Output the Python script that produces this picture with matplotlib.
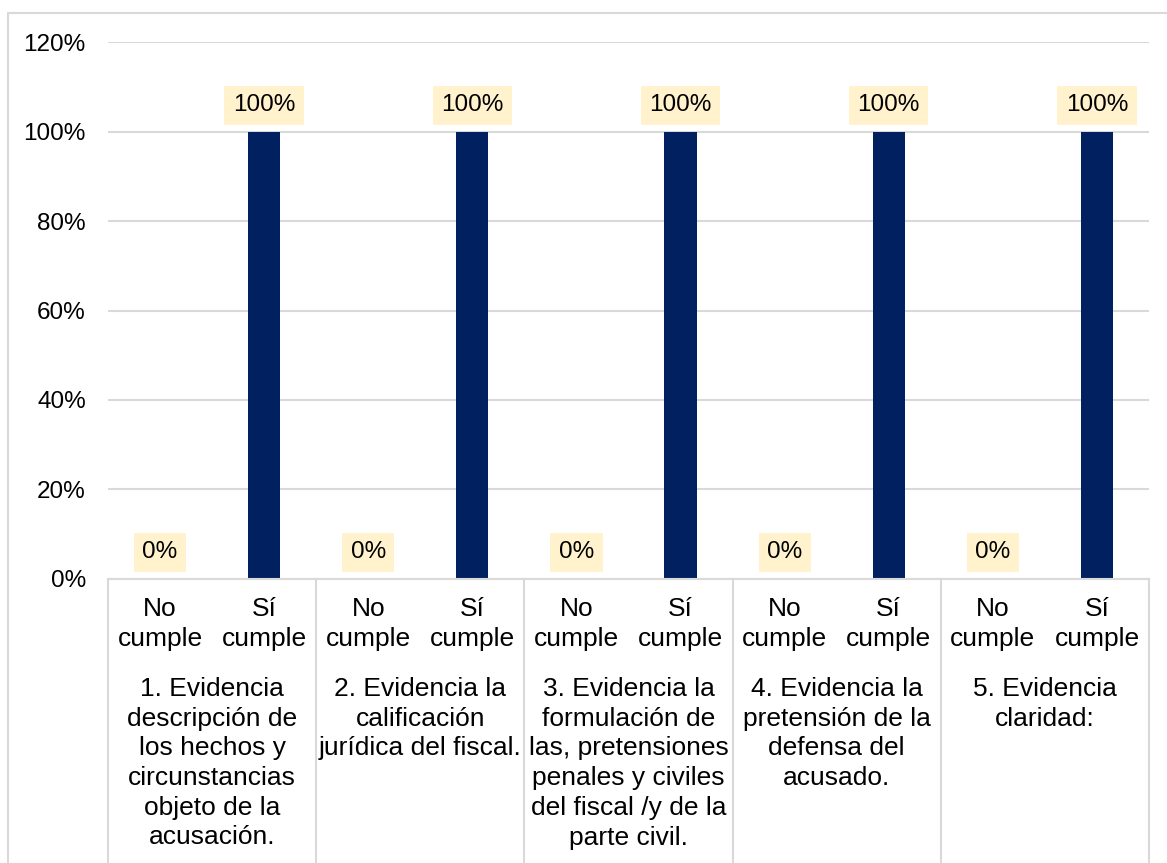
import numpy as np
import matplotlib
matplotlib.use("Agg")
import matplotlib.pyplot as plt
from matplotlib.patches import Rectangle
from matplotlib.lines import Line2D

plt.rcParams['font.family'] = ['Liberation Sans', 'DejaVu Sans']

# data
groups = ["1. Evidencia\ndescripción de\nlos hechos y\ncircunstancias\nobjeto de la\nacusación.",
          "2. Evidencia la\ncalificación\njurídica del fiscal.",
          "3. Evidencia la\nformulación de\nlas, pretensiones\npenales y civiles\ndel fiscal /y de la\nparte civil.",
          "4. Evidencia la\npretensión de la\ndefensa del\nacusado.",
          "5. Evidencia\nclaridad:"]
subcats = ["No\ncumple", "Sí\ncumple"]
no_cumple = [0, 0, 0, 0, 0]
si_cumple = [1.0, 1.0, 1.0, 1.0, 1.0]
yticks = [0, 0.2, 0.4, 0.6, 0.8, 1.0, 1.2]

W, H = 1167, 863
fig = plt.figure(figsize=(W / 100, H / 100), dpi=100)

# chart border
fig.patches.append(Rectangle((8 / W, -0.05), 1.1, 1 - 13 / H + 0.05,
                             transform=fig.transFigure, fill=False,
                             edgecolor="#D9D9D9", linewidth=1.5))

ax_left, ax_right = 108, 1149
ax_bot, ax_top = 578.6, 42.5
ax = fig.add_axes([ax_left / W, 1 - ax_bot / H,
                   (ax_right - ax_left) / W, (ax_bot - ax_top) / H])
ax_h = ax_bot - ax_top

n = len(groups)
x_no = np.arange(n) * 2
x_si = x_no + 1
vals = []
xs = []
for i in range(n):
    xs += [x_no[i], x_si[i]]
    vals += [no_cumple[i], si_cumple[i]]

ax.bar(xs, vals, width=0.31, color="#002060", zorder=3)
ax.set_xlim(-0.5, 2 * n - 0.5)
ax.set_ylim(0, 1.2)
ax.set_yticks(yticks)
ax.set_yticklabels([f"{int(round(v * 100))}%" for v in yticks], fontsize=17.5)
ax.tick_params(axis="y", length=0, pad=16)
ax.set_xticks([])
ax.grid(axis="y", color="#D9D9D9", linewidth=1.5, zorder=0)
for s in ["left", "right", "top"]:
    ax.spines[s].set_visible(False)
ax.spines["bottom"].set_color("#D9D9D9")
ax.spines["bottom"].set_linewidth(1.5)
ax.spines["bottom"].set_zorder(4)

# data labels
for x, v in zip(xs, vals):
    ax.annotate(f"{int(round(v * 100))}%", (x, v), xytext=(0, 19),
                textcoords="offset points", ha="center", va="center",
                fontsize=17.5,
                bbox=dict(boxstyle="square,pad=0.35", facecolor="#FFF2CC",
                          edgecolor="none"))

# category axis
trans = ax.get_xaxis_transform()
for x in xs:
    ax.text(x, -(597 - ax_bot) / ax_h, subcats[x % 2], transform=trans,
            ha="center", va="top", fontsize=19, linespacing=1.3)
for i in range(n):
    ax.text(x_no[i] + 0.5, -(677 - ax_bot) / ax_h, groups[i], transform=trans,
            ha="center", va="top", fontsize=19, linespacing=1.3)
for k in range(n + 1):
    xb = 2 * k - 0.5
    ax.add_line(Line2D([xb, xb], [0, -(H - ax_bot) / ax_h], transform=trans,
                       color="#D9D9D9", linewidth=1.5, clip_on=False))

fig.savefig("out.png", dpi=100)
